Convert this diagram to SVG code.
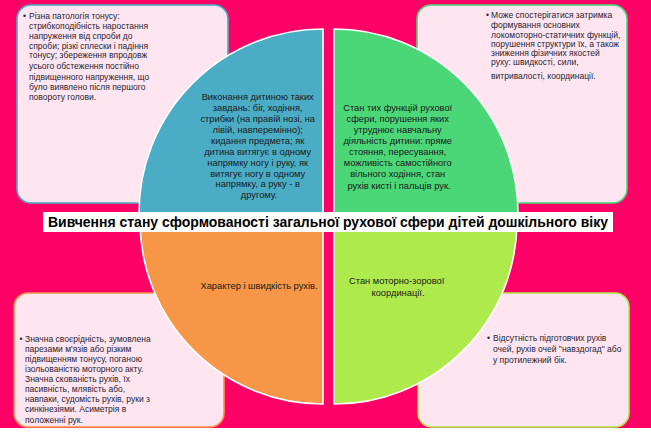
<svg xmlns="http://www.w3.org/2000/svg" width="651" height="434" viewBox="0 0 651 434">
<style>
.box{fill:#FFE5EF;stroke-width:1.6}
.q{stroke:#FFFFFF;stroke-width:1.6}
.bt{font-family:"Liberation Sans",Arial,sans-serif;font-size:8.5px;fill:#1E2433}
.ct{font-family:"Liberation Sans",Arial,sans-serif;font-size:9.3px;fill:#1A1A1A;text-anchor:middle}
.title{font-family:"Liberation Sans",Arial,sans-serif;font-size:14px;font-weight:bold;fill:#000000}
</style>
<rect x="0" y="0" width="651" height="428" fill="#FF0066"/>
<rect x="0" y="428" width="651" height="6" fill="#FFFFFF"/>

<g id="box-top-left">
<rect class="box" x="17" y="5" width="211" height="198" rx="14" stroke="#4BACC6"/>
<text class="bt"><tspan x="23" y="19">•</tspan><tspan x="29" y="19">Різна патологія тонусу:</tspan>
<tspan x="29" y="29">стрибкоподібність наростання</tspan>
<tspan x="29" y="39">напруження  від спроби до</tspan>
<tspan x="29" y="48.5">спроби; різкі сплески і падіння</tspan>
<tspan x="29" y="58">тонусу; збереження  впродовж</tspan>
<tspan x="29" y="68.5">усього обстеження  постійно</tspan>
<tspan x="29" y="79.5">підвищенного  напруження,  що</tspan>
<tspan x="29" y="89.5">було виявлено після першого</tspan>
<tspan x="29" y="99.5">повороту голови.</tspan></text>
</g>

<g id="box-top-right">
<rect class="box" x="417" y="5" width="210" height="198" rx="14" stroke="#4BD677"/>
<text class="bt"><tspan x="486" y="18">•</tspan><tspan x="491" y="18">Може спостерігатися  затримка</tspan>
<tspan x="491" y="28">формування основних</tspan>
<tspan x="491" y="37.5">локомоторно-статичних  функцій,</tspan>
<tspan x="491" y="46.5">порушення структури  їх, а також</tspan>
<tspan x="491" y="56">зниження  фізичних якостей</tspan>
<tspan x="491" y="65">руху: швидкості, сили,</tspan>
<tspan x="491" y="79">витривалості,  координації.</tspan></text>
</g>

<g id="box-bottom-left">
<rect class="box" x="14" y="293" width="210" height="134" rx="14" stroke="#F79646"/>
<text class="bt"><tspan x="19.5" y="342">•</tspan><tspan x="25" y="342">Значна  своєрідність,  зумовлена</tspan>
<tspan x="25" y="352">парезами  м'язів  або різким</tspan>
<tspan x="25" y="362">підвищенням  тонусу,  поганою</tspan>
<tspan x="25" y="372">ізольованістю  моторного  акту.</tspan>
<tspan x="25" y="382">Значна  скованість  рухів,  їх</tspan>
<tspan x="25" y="392">пасивність,  млявість  або,</tspan>
<tspan x="25" y="402">навпаки,  судомість  рухів,  руки з</tspan>
<tspan x="25" y="412">синкінезіями.  Асиметрія  в</tspan>
<tspan x="25" y="423">положенні  рук.</tspan></text>
</g>

<g id="box-bottom-right">
<rect class="box" x="418" y="293" width="211" height="134" rx="14" stroke="#AEEA4B"/>
<text class="bt"><tspan x="487" y="341">•</tspan><tspan x="493" y="341">Відсутність  підготовчих  рухів</tspan>
<tspan x="493" y="352">очей, рухів очей "навздогад"  або</tspan>
<tspan x="493" y="363">у протилежний бік.</tspan></text>
</g>

<g id="quadrant-teal">
<path class="q" d="M323,213 L139,213 A184,184 0 0 1 323,29 Z" fill="#4BACC6"/>
<text class="ct"><tspan x="259" y="100.2">Виконання  дитиною таких</tspan>
<tspan x="259" y="111.1">завдань: біг,  ходіння,</tspan>
<tspan x="259" y="122">стрибки  (на правій  нозі,  на</tspan>
<tspan x="259" y="132.9">лівій,  навперемінно);</tspan>
<tspan x="259" y="143.8">кидання предмета; як</tspan>
<tspan x="259" y="154.7">дитина  витягує в одному</tspan>
<tspan x="259" y="165.6">напрямку ногу і руку, як</tspan>
<tspan x="259" y="176.5">витягує ногу  в одному</tspan>
<tspan x="259" y="187.4">напрямку, а руку - в</tspan>
<tspan x="259" y="198.3">другому.</tspan></text>
</g>

<g id="quadrant-green">
<path class="q" d="M334,213 L334,29 A184,184 0 0 1 518,213 Z" fill="#4BD677"/>
<text class="ct"><tspan x="399" y="111">Стан тих функцій  рухової</tspan>
<tspan x="399" y="122">сфери,  порушення  яких</tspan>
<tspan x="399" y="133">утруднює  навчальну</tspan>
<tspan x="399" y="144">діяльність  дитини:  пряме</tspan>
<tspan x="399" y="155">стояння,  пересування,</tspan>
<tspan x="399" y="166">можливість  самостійного</tspan>
<tspan x="399" y="177">вільного  ходіння,  стан</tspan>
<tspan x="399" y="188.5">рухів  кисті  і  пальців  рук.</tspan></text>
</g>

<g id="quadrant-orange">
<path class="q" d="M323,221 L323,404 A183,183 0 0 1 140,221 Z" fill="#F79646"/>
<text class="ct"><tspan x="259" y="289">Характер і швидкість рухів.</tspan></text>
</g>

<g id="quadrant-lime">
<path class="q" d="M334,221 L517,221 A183,183 0 0 1 334,404 Z" fill="#AEEA4B"/>
<text class="ct"><tspan x="398" y="284">Стан моторно-зорової</tspan>
<tspan x="398" y="296">координації.</tspan></text>
</g>

<g id="title">
<rect x="43" y="212" width="570" height="20" fill="#FFFFFF"/>
<text class="title" x="328" y="226.7" text-anchor="middle" textLength="560" lengthAdjust="spacingAndGlyphs">Вивчення стану сформованості загальної рухової сфери дітей дошкільного віку</text>
</g>
</svg>
